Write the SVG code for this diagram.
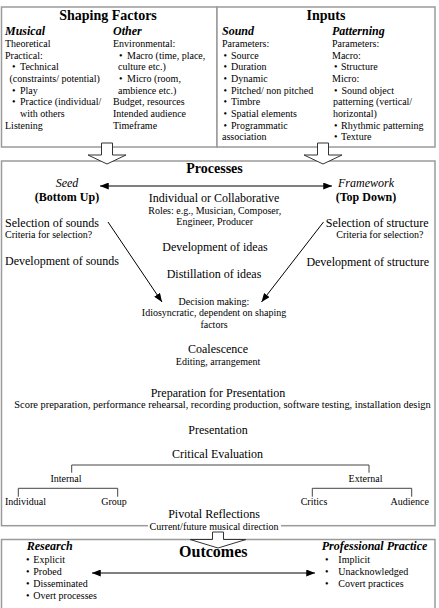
<svg xmlns="http://www.w3.org/2000/svg" width="439" height="608" viewBox="0 0 439 608">
<defs>
<style>
text{font-family:"Liberation Serif","Times New Roman",serif;fill:#000}
.t10{font-size:10px}
.t12{font-size:12px}
.h14{font-size:14px;font-weight:bold}
.h16{font-size:16px;font-weight:bold}
.bi{font-size:12px;font-weight:bold;font-style:italic}
.i12{font-size:12px;font-style:italic}
.b12{font-size:12px;font-weight:bold}
.m{text-anchor:middle}
.e{text-anchor:end}
.box{fill:#fff;stroke:#9a9a9a;stroke-width:1.5}
.blk{fill:#fff;stroke:#333;stroke-width:1}
.ln{fill:none;stroke:#000;stroke-width:1}
.br{fill:none;stroke:#444;stroke-width:1}
</style>
<marker id="ah" viewBox="0 0 10 8" refX="10" refY="4" markerWidth="9" markerHeight="7" markerUnits="userSpaceOnUse" orient="auto-start-reverse">
<path d="M0,0 L10,4 L0,8 z" fill="#000"/>
</marker>
</defs>
<rect width="439" height="608" fill="#fff"/>

<g id="shaping-factors">
<rect class="box" x="1.5" y="7" width="215.5" height="140"/>
<text class="h14 m" x="108" y="20">Shaping Factors</text>
<text class="bi" x="5" y="35">Musical</text>
<text class="t10" x="5" y="47">Theoretical</text>
<text class="t10" x="5" y="58.5">Practical:</text>
<text class="t10" x="12" y="70.3">•</text><text class="t10" x="20" y="70.3">Technical</text>
<text class="t10" x="9.5" y="82">(constraints/ potential)</text>
<text class="t10" x="12" y="93.5">•</text><text class="t10" x="20" y="93.5">Play</text>
<text class="t10" x="12" y="105.3">•</text><text class="t10" x="20" y="105.3">Practice (individual/</text>
<text class="t10" x="20" y="116.7">with others</text>
<text class="t10" x="5" y="128.7">Listening</text>
<text class="bi" x="113" y="35">Other</text>
<text class="t10" x="113" y="47">Environmental:</text>
<text class="t10" x="119" y="58.5">•</text><text class="t10" x="127" y="58.5">Macro (time, place,</text>
<text class="t10" x="118" y="70.3">culture etc.)</text>
<text class="t10" x="119" y="82">•</text><text class="t10" x="127" y="82">Micro (room,</text>
<text class="t10" x="118" y="93.5">ambience etc.)</text>
<text class="t10" x="113" y="105.3">Budget, resources</text>
<text class="t10" x="113" y="116.7">Intended audience</text>
<text class="t10" x="113" y="128.7">Timeframe</text>
</g>

<g id="inputs">
<rect class="box" x="217" y="7" width="218" height="140"/>
<text class="h14 m" x="326" y="20">Inputs</text>
<text class="bi" x="222" y="35">Sound</text>
<text class="t10" x="222" y="47">Parameters:</text>
<text class="t10" x="223.5" y="58.5">•</text><text class="t10" x="231" y="58.5">Source</text>
<text class="t10" x="223.5" y="70.3">•</text><text class="t10" x="231" y="70.3">Duration</text>
<text class="t10" x="223.5" y="82">•</text><text class="t10" x="231" y="82">Dynamic</text>
<text class="t10" x="223.5" y="93.5">•</text><text class="t10" x="231" y="93.5">Pitched/ non pitched</text>
<text class="t10" x="223.5" y="105.3">•</text><text class="t10" x="231" y="105.3">Timbre</text>
<text class="t10" x="223.5" y="116.7">•</text><text class="t10" x="231" y="116.7">Spatial elements</text>
<text class="t10" x="223.5" y="128.7">•</text><text class="t10" x="231" y="128.7">Programmatic</text>
<text class="t10" x="222" y="140.3">association</text>
<text class="bi" x="332" y="35">Patterning</text>
<text class="t10" x="332" y="47">Parameters:</text>
<text class="t10" x="332" y="58.5">Macro:</text>
<text class="t10" x="334" y="70.3">•</text><text class="t10" x="341" y="70.3">Structure</text>
<text class="t10" x="332" y="82">Micro:</text>
<text class="t10" x="334" y="93.5">•</text><text class="t10" x="341.5" y="93.5">Sound object</text>
<text class="t10" x="333" y="105.3">patterning (vertical/</text>
<text class="t10" x="333" y="116.7">horizontal)</text>
<text class="t10" x="334" y="128.7">•</text><text class="t10" x="341" y="128.7">Rhythmic patterning</text>
<text class="t10" x="334" y="140.3">•</text><text class="t10" x="341" y="140.3">Texture</text>
</g>

<g id="processes">
<rect class="box" x="1.5" y="161" width="433.5" height="364.7"/>
<text class="h14 m" x="214.5" y="173">Processes</text>
<text class="i12 m" x="67" y="186.5">Seed</text>
<text class="b12 m" x="67" y="201">(Bottom Up)</text>
<text class="i12 m" x="366" y="186.5">Framework</text>
<text class="b12 m" x="366" y="201">(Top Down)</text>
<text class="t12 m" x="214" y="202">Individual or Collaborative</text>
<text class="t10 m" x="214.7" y="214">Roles: e.g., Musician, Composer,</text>
<text class="t10 m" x="214.7" y="225">Engineer, Producer</text>
<text class="t12 m" x="215" y="250.5">Development of ideas</text>
<text class="t12 m" x="214" y="278">Distillation of ideas</text>
<text class="t10 m" x="214" y="305">Decision making:</text>
<text class="t10 m" x="214" y="316">Idiosyncratic, dependent on shaping</text>
<text class="t10 m" x="214" y="327.7">factors</text>
<text class="t12" x="5" y="226.7">Selection of sounds</text>
<text class="t10" x="5" y="238">Criteria for selection?</text>
<text class="t12" x="5" y="265">Development of sounds</text>
<text class="t12 e" x="428.5" y="226.7">Selection of structure</text>
<text class="t10 e" x="423.5" y="238">Criteria for selection?</text>
<text class="t12 e" x="429" y="266">Development of structure</text>
<text class="t12 m" x="218" y="353">Coalescence</text>
<text class="t10 m" x="218" y="365">Editing, arrangement</text>
<text class="t12 m" x="218" y="396.7">Preparation for Presentation</text>
<text class="m" style="font-size:10.4px" x="222.5" y="408.3">Score preparation, performance rehearsal, recording production, software testing, installation design</text>
<text class="t12 m" x="218" y="434">Presentation</text>
<text class="t12 m" x="217.5" y="458.3">Critical Evaluation</text>
<text class="t10 m" x="66" y="482.3">Internal</text>
<text class="t10 m" x="365.5" y="482.3">External</text>
<text class="t10 m" x="25.5" y="505">Individual</text>
<text class="t10 m" x="114" y="505">Group</text>
<text class="t10 m" x="314" y="505">Critics</text>
<text class="t10 m" x="409.7" y="505">Audience</text>
<text class="t12 m" x="214" y="518.3">Pivotal Reflections</text>
<rect x="148" y="522" width="133" height="10" fill="#fff"/>
<text class="t10 m" x="214" y="530">Current/future musical direction</text>
</g>

<g id="outcomes">
<rect class="box" x="1.5" y="539.5" width="433.5" height="80"/>
<text class="h16 m" x="213.3" y="557">Outcomes</text>
<text class="bi" x="26.7" y="550">Research</text>
<text class="t10" x="26" y="562.5">•</text><text class="t10" x="33.3" y="562.5">Explicit</text>
<text class="t10" x="26" y="574.5">•</text><text class="t10" x="33.3" y="574.5">Probed</text>
<text class="t10" x="26" y="586.5">•</text><text class="t10" x="33.3" y="586.5">Disseminated</text>
<text class="t10" x="26" y="598.5">•</text><text class="t10" x="33.3" y="598.5">Overt processes</text>
<text class="bi" x="321.7" y="550">Professional Practice</text>
<text class="t10" x="325" y="562.5">•</text><text class="t10" x="338.3" y="562.5">Implicit</text>
<text class="t10" x="325" y="574.5">•</text><text class="t10" x="338.3" y="574.5">Unacknowledged</text>
<text class="t10" x="325" y="586.5">•</text><text class="t10" x="338.3" y="586.5">Covert practices</text>
</g>

<g id="connectors">
<polygon class="blk" points="101.5,143 112.5,143 112.5,155 126,155 107,164 88,155 101.5,155"/>
<polygon class="blk" points="317.5,143 328.5,143 328.5,155 342,155 323,164 304,155 317.5,155"/>
<polygon class="blk" points="212.5,532 223.5,532 223.5,539.5 246,539.5 218,548 190,539.5 212.5,539.5"/>
<line class="ln" x1="100" y1="186" x2="332" y2="186" marker-start="url(#ah)" marker-end="url(#ah)"/>
<line class="ln" x1="108" y1="222" x2="162" y2="302" marker-end="url(#ah)"/>
<line class="ln" x1="323.5" y1="222" x2="261.5" y2="302" marker-end="url(#ah)"/>
<path class="br" d="M71.7,472.7 V465 H369 V472.7"/>
<path class="br" d="M18.3,496.7 V488.3 H117.7 V496.7"/>
<path class="br" d="M312.3,496.7 V488.3 H411.7 V496.7"/>
<line class="ln" x1="92" y1="573" x2="315" y2="573" marker-start="url(#ah)" marker-end="url(#ah)"/>
</g>
</svg>
